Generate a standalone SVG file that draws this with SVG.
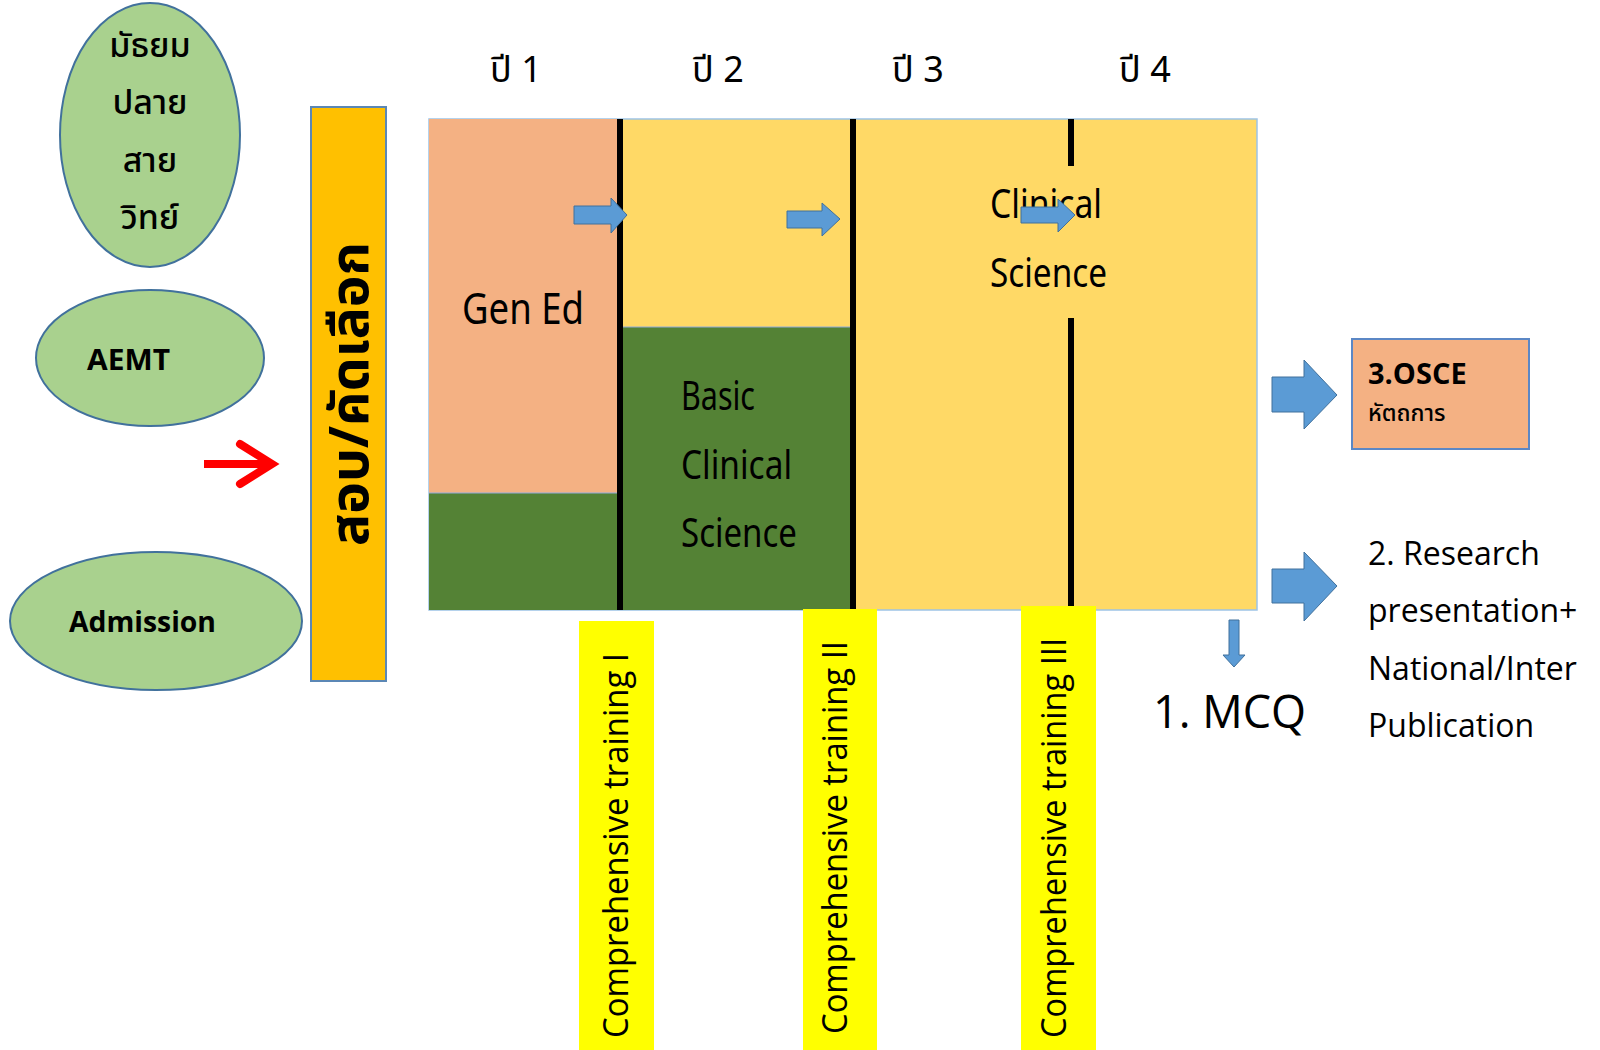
<svg xmlns="http://www.w3.org/2000/svg" width="1600" height="1050" viewBox="0 0 1600 1050">
<style>
.oval{fill:#A9D18E;stroke:#41719C;stroke-width:2}
.th{font-family:"Noto Sans Thai","Noto Sans","DejaVu Sans",sans-serif;fill:#000}
.en{font-family:"Open Sans","Noto Sans",sans-serif;fill:#000}
.cond{font-family:"Noto Sans","Open Sans",sans-serif;fill:#000}
.bar{fill:#FFFF00}
.vline{stroke:#000;stroke-width:6}
.blk{fill:#5B9BD5;stroke:#41719C;stroke-width:1}
</style>
<rect width="1600" height="1050" fill="#fff"/>

<g id="node-matayom">
<ellipse class="oval" cx="150" cy="135" rx="90" ry="132"/>
<text class="th" font-size="34" font-weight="500" text-anchor="middle" x="150" y="57">มัธยม</text>
<text class="th" font-size="34" font-weight="500" text-anchor="middle" x="150" y="114">ปลาย</text>
<text class="th" font-size="34" font-weight="500" text-anchor="middle" x="150" y="172">สาย</text>
<text class="th" font-size="34" font-weight="500" text-anchor="middle" x="150" y="229">วิทย์</text>
</g>
<g id="node-aemt">
<ellipse class="oval" cx="150" cy="358" rx="114" ry="68"/>
<text class="en" font-size="29" font-weight="bold" x="87" y="370" textLength="83" lengthAdjust="spacingAndGlyphs">AEMT</text>
</g>
<g id="node-admission">
<ellipse class="oval" cx="156" cy="621" rx="146" ry="69"/>
<text class="en" font-size="28" font-weight="bold" x="69" y="632" textLength="147" lengthAdjust="spacingAndGlyphs">Admission</text>
</g>

<g id="node-selection">
<rect x="311" y="107" width="75" height="574" fill="#FFC000" stroke="#5B87B5" stroke-width="2"/>
<text class="th" font-size="54" font-weight="bold" transform="translate(368,546) rotate(-90)" textLength="304" lengthAdjust="spacingAndGlyphs">สอบ/คัดเลือก</text>
</g>

<g id="years">
<text class="th" font-size="36" x="490" y="82">ปี 1</text>
<text class="th" font-size="36" x="692" y="82">ปี 2</text>
<text class="th" font-size="36" x="892" y="82">ปี 3</text>
<text class="th" font-size="36" x="1119" y="82">ปี 4</text>
</g>

<g id="node-curriculum">
<rect x="429" y="119" width="828" height="491" fill="#FFD966" stroke="#9DC3E6" stroke-width="1.5"/>
<rect x="429" y="119" width="191" height="374" fill="#F4B183"/>
<rect x="429" y="493" width="191" height="117" fill="#548235"/>
<line x1="429" y1="493" x2="620" y2="493" stroke="#8FAADC" stroke-width="1"/>
<rect x="623" y="327" width="229" height="283" fill="#548235"/>
<line x1="623" y1="327" x2="852" y2="327" stroke="#8FAADC" stroke-width="1"/>
<line class="vline" x1="620" y1="119" x2="620" y2="610"/>
<line class="vline" x1="853" y1="119" x2="853" y2="610"/>
<line class="vline" x1="1071" y1="119" x2="1071" y2="166"/>
<line class="vline" x1="1071" y1="318" x2="1071" y2="610"/>
<text class="cond" font-size="44" x="462" y="324" textLength="122" lengthAdjust="spacingAndGlyphs">Gen Ed</text>
<text class="cond" font-size="40" x="681" y="410" textLength="74" lengthAdjust="spacingAndGlyphs">Basic</text>
<text class="cond" font-size="40" x="681" y="479" textLength="111" lengthAdjust="spacingAndGlyphs">Clinical</text>
<text class="cond" font-size="40" x="681" y="547" textLength="116" lengthAdjust="spacingAndGlyphs">Science</text>
<text class="cond" font-size="40" x="990" y="218" textLength="112" lengthAdjust="spacingAndGlyphs">Clinical</text>
<text class="cond" font-size="40" x="990" y="287" textLength="117" lengthAdjust="spacingAndGlyphs">Science</text>
</g>

<g id="node-ct1">
<rect class="bar" x="579" y="621" width="75" height="429"/>
<text class="en" font-size="35" transform="translate(628,1038) rotate(-90)" textLength="385" lengthAdjust="spacingAndGlyphs">Comprehensive training I</text>
</g>
<g id="node-ct2">
<rect class="bar" x="803" y="609" width="74" height="441"/>
<text class="en" font-size="35" transform="translate(847,1034) rotate(-90)" textLength="393" lengthAdjust="spacingAndGlyphs">Comprehensive training II</text>
</g>
<g id="node-ct3">
<rect class="bar" x="1021" y="606" width="75" height="444"/>
<text class="en" font-size="35" transform="translate(1066,1038) rotate(-90)" textLength="400" lengthAdjust="spacingAndGlyphs">Comprehensive training III</text>
</g>

<g id="node-osce">
<rect x="1352" y="339" width="177" height="110" fill="#F4B183" stroke="#5B87C5" stroke-width="2"/>
<text class="en" font-size="29" font-weight="bold" x="1368" y="384">3.OSCE</text>
<text class="th" font-size="23" font-weight="500" x="1368" y="421">หัตถการ</text>
</g>
<g id="node-mcq">
<text class="en" font-size="45" x="1153" y="728">1. MCQ</text>
</g>
<g id="node-research">
<text class="en" font-size="32" x="1368" y="565">2. Research</text>
<text class="en" font-size="32" x="1368" y="622">presentation+</text>
<text class="en" font-size="32" x="1368" y="680">National/Inter</text>
<text class="en" font-size="32" x="1368" y="737">Publication</text>
</g>

<g id="connectors">
<path d="M204,464 H270" stroke="#FF0000" stroke-width="8" fill="none"/>
<path d="M240,444 L272,464 L240,484" stroke="#FF0000" stroke-width="8" fill="none" stroke-linecap="round" stroke-linejoin="miter"/>
<polygon class="blk" points="574,206 611,206 611,198 627,215 611,233 611,224 574,224"/>
<polygon class="blk" points="787,211 822,211 822,203 840,219 822,236 822,228 787,228"/>
<polygon class="blk" points="1021,207 1058,207 1058,199 1075,215 1058,232 1058,223 1021,223"/>
<polygon class="blk" points="1272,377 1304,377 1304,360 1337,395 1304,429 1304,412 1272,412"/>
<polygon class="blk" points="1272,569 1304,569 1304,552 1337,586 1304,621 1304,603 1272,603"/>
<polygon class="blk" points="1229,620 1239,620 1239,655 1245,655 1234,667 1223,655 1229,655"/>
</g>
</svg>
